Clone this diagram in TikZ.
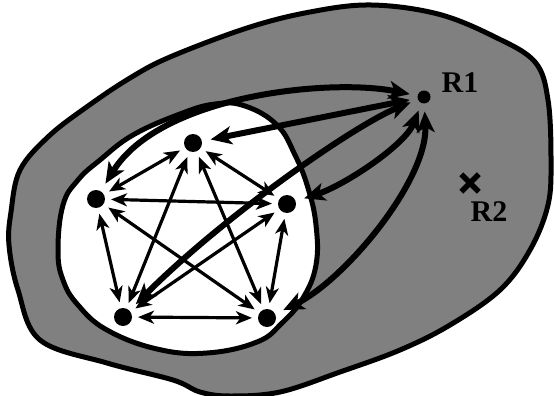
\documentclass[tikz,border=0pt]{standalone}
\usepackage{fontspec}
\setmainfont{Liberation Serif}
\usetikzlibrary{arrows.meta,shapes.misc}
\begin{document}
\begin{tikzpicture}[x=1pt,y=-1pt,
  dot/.style={circle,fill=black,inner sep=0pt,minimum size=18pt,outer sep=0pt},
  rdot/.style={circle,fill=black,inner sep=0pt,minimum size=13pt,outer sep=0pt},
  ptip/.tip={Stealth[length=16pt,width=13pt,inset=4.5pt]},
  rtip/.tip={Stealth[length=21pt,width=18pt,inset=5.5pt]},
  pedge/.style={line width=3.2pt,{ptip}-{ptip},shorten <=6pt,shorten >=6pt},
  redge/.style={line width=6pt,{rtip}-{rtip},shorten <=8pt,shorten >=9pt},
  lbl/.style={font=\fontsize{30}{30}\selectfont\bfseries,inner sep=0pt},
  region/.style={line width=5pt,line join=round}]
\useasboundingbox (0,0) rectangle (554,396);
% outer grey blob
\draw[region,fill=black!50] plot[smooth cycle,tension=0.6] coordinates {
 (11,212) (20,170) (49,136) (88,106) (130,78) (170,57) (247,28) (310,12)
 (371,5) (438,14) (495,37) (535,62) (548,100) (551,160) (548,205) (530,250)
 (500,290) (450,325) (400,350) (340,372) (280,392) (230,396) (200,392)
 (173,380) (107,363) (40,340) (18,290) (9,245)};
% inner white region
\draw[region,fill=white] plot[smooth cycle,tension=0.7] coordinates {
 (58,250) (63,205) (78,180) (100,160) (133,135) (180,114) (215,104) (245,106)
 (277,125) (295,155) (308,188) (316,225) (316,265) (303,298) (282,323)
 (257,342) (207,353) (157,349) (107,330) (78,305) (63,280)};
% nodes
\node[dot] (T) at (193,143) {};
\node[dot] (L) at (96,199) {};
\node[dot] (R) at (287,204) {};
\node[dot] (BL) at (123,317) {};
\node[dot] (BR) at (267,318) {};
\node[rdot] (R1) at (424,97) {};
\node[cross out,draw,line width=5.5pt,minimum size=12pt,inner sep=0pt] (R2) at (470,183) {};
\node[lbl] (R1l) at (460,83) {R1};
\node[lbl] (R2l) at (489,212) {R2};
% pentagon edges
\draw[pedge] (T) -- (L);
\draw[pedge] (T) -- (R);
\draw[pedge] (T) -- (BL);
\draw[pedge] (T) -- (BR);
\draw[pedge] (L) -- (R);
\draw[pedge] (L) -- (BL);
\draw[pedge] (L) -- (BR);
\draw[pedge] (R) -- (BL);
\draw[pedge] (R) -- (BR);
\draw[pedge] (BL) -- (BR);
% edges to R1
\draw[redge] (R1) .. controls (330,78) and (160,95) .. (L);
\draw[redge] (R1) -- (T);
\draw[redge] (R1) .. controls (355,125) and (225,215) .. (BL);
\draw[redge] (R1) .. controls (405,145) and (345,185) .. (R);
\draw[redge] (R1) .. controls (428,180) and (345,280) .. (BR);
\end{tikzpicture}
\end{document}
